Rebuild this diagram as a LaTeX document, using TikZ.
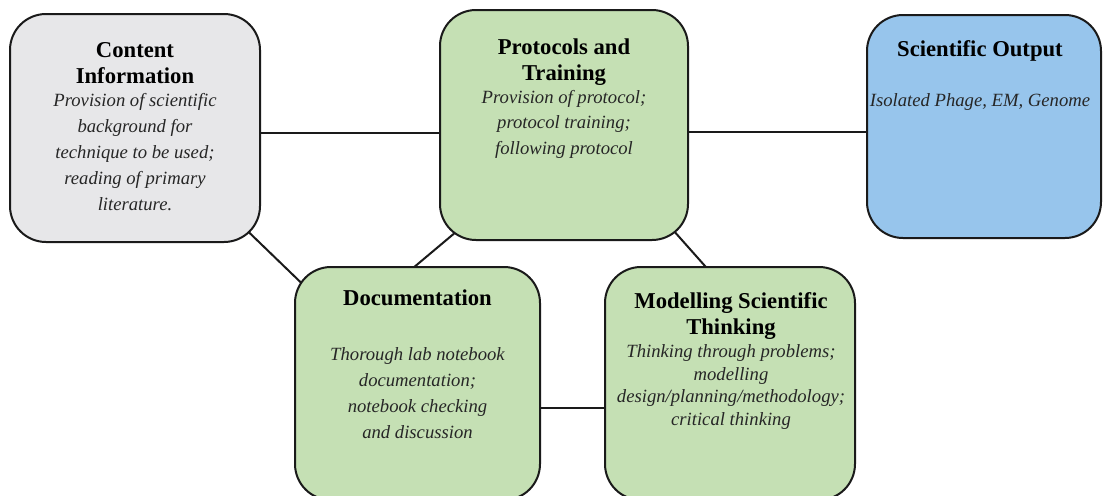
\documentclass[tikz,border=0pt]{standalone}
\usepackage{fontspec}
\setmainfont{Liberation Serif}
\usetikzlibrary{calc,backgrounds}
\definecolor{greyfill}{HTML}{E7E7E9}
\definecolor{greenfill}{HTML}{C5E0B4}
\definecolor{bluefill}{HTML}{97C5EC}
\definecolor{edge}{HTML}{1A1A1A}
\definecolor{bodytext}{HTML}{262626}
\tikzset{
  card/.style={draw=edge, line width=1.5pt, rounded corners=27pt, inner sep=0pt},
  link/.style={draw=edge, line width=1.5pt},
  label/.style={anchor=north, align=center, inner sep=0pt, text=black},
}
\newcommand{\bodyfont}{\itshape\color{bodytext}}
\newcommand{\ttlfont}{\bfseries\fontsize{17}{19.5}\selectfont}
\begin{document}
\begin{tikzpicture}[x=0.75pt,y=-0.75pt]
\useasboundingbox (0,0) rectangle (1104,496);
% boxes
\node[card, fill=greyfill, minimum width=250*0.75pt, minimum height=228*0.75pt] (cont) at (135,128) {};
\node[card, fill=greenfill, minimum width=248*0.75pt, minimum height=230*0.75pt] (prot) at (564,125) {};
\node[card, fill=bluefill, minimum width=234*0.75pt, minimum height=223*0.75pt] (sci) at (984,126.5) {};
\node[card, fill=greenfill, minimum width=245*0.75pt, minimum height=233*0.75pt] (doc) at (417.5,383.5) {};
\node[card, fill=greenfill, minimum width=250*0.75pt, minimum height=233*0.75pt] (mod) at (730,383.5) {};
% texts
\node[label, font=\fontsize{14}{19.5}\selectfont] (conttxt) at (135,42) {%
  {\ttlfont Content}\\
  {\ttlfont Information}\\[-2pt]
  {\bodyfont Provision of scientific}\\
  {\bodyfont background for}\\
  {\bodyfont technique to be used;}\\
  {\bodyfont reading of primary}\\
  {\bodyfont literature.}};
\node[label, font=\fontsize{14}{19}\selectfont] (prottxt) at (564,39) {%
  {\ttlfont Protocols and}\\
  {\ttlfont Training}\\[-1.5pt]
  {\bodyfont Provision of protocol;}\\
  {\bodyfont protocol training;}\\
  {\bodyfont following protocol}};
\node[label, font=\fontsize{14}{19.5}\selectfont] (scitxt) at (980,40) {%
  {\ttlfont Scientific Output}\\[18.5pt]
  {\bodyfont Isolated Phage, EM, Genome}};
\node[label, font=\fontsize{14}{19.5}\selectfont] (doctxt) at (417.5,290) {%
  {\ttlfont Documentation}\\[21.5pt]
  {\bodyfont Thorough lab notebook}\\
  {\bodyfont documentation;}\\
  {\bodyfont notebook checking}\\
  {\bodyfont and discussion}};
\node[label, font=\fontsize{14}{17}\selectfont] (modtxt) at (731,292) {%
  {\ttlfont Modelling Scientific}\\[3pt]
  {\ttlfont Thinking}\\[0pt]
  {\bodyfont Thinking through problems;}\\
  {\bodyfont modelling}\\
  {\bodyfont design/planning/methodology;}\\
  {\bodyfont critical thinking}};
% connectors
\begin{scope}[on background layer]
\draw[link] ([yshift=-4pt]cont.east) -- ([yshift=-4pt]cont.east -| prot.west);
\draw[link] ([yshift=-5.25pt]prot.east) -- ([yshift=-5.25pt]prot.east -| sci.west);
\draw[link] ([yshift=-18.4pt]doc.east) -- ([yshift=-18.4pt]doc.east -| mod.west);
\draw[link] ($(cont.south east)+(-22.5pt,21pt)$) -- ($(doc.north west)+(18.75pt,-25.5pt)$);
\draw[link] ($(prot.south west)+(22.5pt,15pt)$) -- ($(doc.north west)+(75pt,-13.5pt)$);
\draw[link] ($(prot.south east)+(-18pt,15pt)$) -- ($(mod.north west)+(87.75pt,-13.5pt)$);
\end{scope}
\end{tikzpicture}
\end{document}
